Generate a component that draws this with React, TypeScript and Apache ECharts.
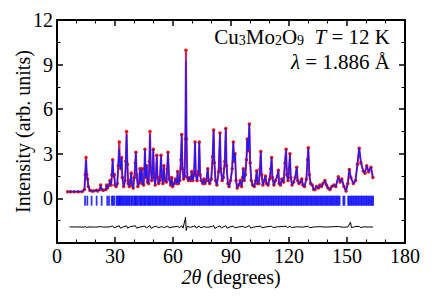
import React, { useEffect, useRef } from "react";
import * as echarts from "echarts";

// 2θ (deg), observed intensity (arb. units)
const observed: [number, number][] = [
  [5.5, 0.45], [7, 0.44], [9, 0.45], [11, 0.45], [13, 0.47], [14.2, 0.6], [14.6, 1.6], [15.0, 2.75], [15.4, 1.6],
  [15.8, 1.3], [16.2, 0.8], [17, 0.55], [18, 0.5], [19, 0.5], [20.5, 0.55], [21, 0.5], [22.2, 0.6], [22.6, 0.9],
  [23.0, 0.6], [24, 0.55], [25.3, 0.6], [25.7, 0.9], [26.1, 0.7], [27.0, 0.9], [27.4, 1.2], [28.0, 0.9], [28.4, 1.6],
  [28.8, 2.6], [29.2, 1.5], [29.6, 1.6], [30.0, 0.9], [30.6, 0.8], [31.2, 1.0], [31.7, 2.2], [32.2, 3.8], [32.6, 2.2],
  [33.0, 2.0], [33.4, 2.75], [33.8, 1.4], [34.5, 0.8], [35.2, 1.2], [35.6, 2.5], [36.0, 4.5], [36.4, 2.3], [36.8, 1.0],
  [37.4, 0.8], [38.0, 1.2], [38.4, 1.7], [38.8, 0.9], [39.4, 0.7], [40.0, 1.4], [40.5, 2.4], [40.8, 3.1], [41.2, 1.6],
  [41.8, 0.8], [42.4, 1.0], [42.9, 2.0], [43.3, 1.1], [43.8, 2.0], [44.2, 1.0], [44.8, 0.9], [45.2, 2.0], [45.5, 3.3],
  [45.9, 1.4], [46.4, 2.2], [46.8, 1.1], [47.4, 1.0], [47.8, 2.5], [48.1, 4.5], [48.5, 2.0], [49.0, 1.2], [49.5, 2.0],
  [49.8, 3.3], [50.2, 1.4], [50.8, 0.9], [51.2, 1.6], [51.6, 2.9], [52.0, 1.4], [52.6, 1.0], [53.2, 1.2], [53.8, 2.9],
  [54.2, 1.5], [54.8, 1.0], [55.3, 2.2], [55.8, 1.2], [56.6, 1.1], [57.0, 2.0], [57.4, 3.1], [58.0, 1.3], [58.8, 0.9],
  [59.3, 1.4], [59.8, 0.8], [60.6, 1.0], [61.2, 1.3], [62.0, 1.0], [62.4, 1.8], [62.8, 1.0], [63.5, 1.2], [64.1, 2.6],
  [64.5, 4.3], [64.9, 2.0], [65.5, 1.3], [66.0, 1.5], [66.4, 4.0], [66.7, 9.96], [67.0, 4.0], [67.4, 1.4], [68.0, 1.2],
  [68.6, 1.4], [69.2, 1.2], [69.7, 1.8], [70.2, 1.2], [70.9, 1.6], [71.4, 3.8], [71.8, 1.6], [72.4, 1.2], [73.2, 1.8],
  [73.6, 3.8], [74.0, 1.6], [74.6, 1.2], [75.4, 1.0], [76.0, 1.3], [76.5, 1.0], [77.2, 1.2], [78.0, 2.0], [78.4, 1.2],
  [79.0, 1.0], [79.8, 1.3], [80.5, 2.8], [81.0, 4.6], [81.4, 2.4], [82.0, 1.2], [82.7, 0.9], [83.6, 1.8], [84.3, 4.4],
  [84.7, 2.0], [85.4, 1.2], [86.0, 1.4], [86.8, 2.5], [87.3, 4.7], [87.7, 2.2], [88.4, 1.0], [89.0, 0.8], [89.8, 1.2],
  [90.6, 2.0], [91.2, 3.8], [91.6, 2.5], [92.1, 3.0], [92.6, 1.2], [93.2, 0.7], [94.0, 0.9], [94.8, 1.2], [95.5, 0.8],
  [96.0, 1.4], [96.4, 2.0], [96.8, 1.2], [97.4, 1.6], [98.0, 2.6], [98.4, 4.0], [98.9, 3.2], [99.5, 5.0], [99.9, 2.4],
  [100.5, 1.2], [101.2, 0.9], [102.0, 0.8], [102.8, 1.2], [103.3, 1.86], [103.7, 1.0], [104.4, 1.0], [105.0, 2.0],
  [105.4, 3.15], [105.8, 1.6], [106.5, 0.9], [107.2, 1.2], [107.8, 1.5], [108.4, 1.0], [109.2, 0.9], [110.0, 1.3],
  [110.6, 2.0], [111.0, 2.75], [111.4, 1.4], [112.2, 0.9], [113.0, 1.2], [114.0, 1.5], [114.5, 1.9], [114.9, 1.0],
  [115.6, 0.9], [116.3, 1.3], [117.2, 1.1], [117.9, 2.4], [118.5, 3.3], [118.9, 1.6], [119.5, 1.2], [120.0, 2.0],
  [120.5, 3.0], [120.9, 1.4], [121.6, 0.9], [122.4, 1.1], [123.2, 1.4], [124.0, 2.1], [124.5, 1.2], [125.2, 1.0],
  [126.0, 1.1], [126.6, 1.3], [127.2, 0.9], [128.0, 0.8], [129.0, 1.3], [129.6, 2.6], [130.0, 3.4], [130.5, 1.6],
  [131.2, 1.0], [132.0, 0.9], [132.8, 0.6], [133.4, 0.6], [134.2, 0.8], [135.2, 0.7], [136.0, 0.9], [136.8, 0.8],
  [137.6, 1.0], [138.6, 1.2], [139.4, 0.9], [140.2, 0.7], [141.2, 0.6], [142.2, 0.8], [143.2, 0.9], [144.2, 0.8],
  [145.5, 1.45], [146.4, 1.1], [147.3, 1.3], [148.4, 0.8], [149.5, 0.5], [150.4, 1.0], [151.2, 1.95], [152.0, 1.4],
  [153.3, 1.0], [154.4, 1.2], [155.4, 2.3], [156.3, 3.38], [157.2, 2.4], [158.4, 1.85], [159.3, 1.7], [160.2, 2.2],
  [161.2, 1.8], [162.4, 2.1], [163.4, 1.4],
];

// calculated intensity where it differs from the observed one
const calcAdjust: [number, number][] = [
  [66.7, 9.24], [32.2, 3.35], [36.0, 4.3], [48.1, 4.3], [15.0, 2.6],
];

// difference curve (obs - calc, offset)
const difference: [number, number][] = [
  [6.5, -1.92], [10, -1.92], [14, -1.93], [14.8, -1.88], [15.2, -1.97], [16, -1.92], [20, -1.93], [22.6, -1.9],
  [24, -1.93], [27, -1.92], [28.8, -1.86], [29.5, -1.98], [31, -1.9], [32.2, -1.84], [32.8, -2.0], [34, -1.93],
  [36, -1.85], [36.5, -2.0], [38, -1.9], [40.5, -1.84], [41.2, -2.0], [43, -1.92], [45.5, -1.86], [46.2, -1.99],
  [48.1, -1.83], [48.7, -2.02], [50, -1.92], [51.6, -1.87], [52.3, -1.98], [54, -1.9], [55.5, -1.96], [57.4, -1.86],
  [58, -1.98], [60, -1.92], [62.4, -1.88], [63.5, -1.96], [64.5, -1.84], [65.2, -2.0], [66.5, -1.27], [66.8, -2.15],
  [67.4, -1.88], [69, -1.95], [71.4, -1.85], [72, -1.99], [73.6, -1.86], [74.3, -1.98], [76, -1.9], [78, -1.95],
  [80.5, -1.87], [81, -1.82], [81.6, -2.02], [83, -1.92], [84.3, -1.85], [85, -1.99], [87.3, -1.84], [88, -2.0],
  [90, -1.9], [91.2, -1.86], [92, -1.98], [94, -1.92], [96.4, -1.88], [97.2, -1.97], [99.5, -1.83], [100.2, -2.0],
  [102, -1.92], [105.4, -1.86], [106, -1.98], [108, -1.92], [111, -1.87], [111.7, -1.97], [114, -1.91], [118.5, -1.87],
  [119.2, -1.97], [120.5, -1.88], [121.2, -1.96], [124, -1.91], [127, -1.93], [130, -1.87], [130.7, -1.97], [133, -1.92],
  [136, -1.9], [139, -1.93], [142, -1.91], [145.5, -1.89], [148, -1.94], [150.5, -1.92], [151.8, -1.6], [152.3, -1.97],
  [154, -1.9], [156.3, -1.88], [157.2, -1.96], [159, -1.91], [161, -1.93], [163.5, -1.92],
];

// Bragg reflection positions (2θ)
const reflections: number[] = [
  14.5, 15.7, 17.9, 20.5, 23.1, 26.0, 26.9, 28.3, 28.9, 29.6, 30.8, 31.3, 31.9, 32.3, 32.9, 33.4, 34.0, 34.6, 35.3,
  35.9, 36.4, 37.1, 37.6, 38.4, 38.9, 39.7, 40.3, 40.8, 41.4, 42.1, 42.8, 43.4, 43.9, 44.6, 45.2, 45.6, 46.3, 46.9,
  47.5, 48.1, 48.6, 49.3, 49.8, 50.5, 51.1, 51.6, 52.3, 53.0, 53.5, 54.1, 54.8, 55.4, 56.0, 56.6, 57.3, 57.9, 58.6,
  59.2, 59.9, 60.5, 61.2, 61.8, 62.4, 63.1, 63.7, 64.4, 65.0, 65.7, 66.4, 66.9, 67.6, 68.3, 68.9, 69.6, 70.3, 70.9,
  71.5, 72.2, 72.8, 73.5, 74.1, 74.8, 75.4, 76.1, 76.8, 77.4, 78.1, 78.7, 79.3, 80.0, 80.6, 81.2, 81.9, 82.5, 83.2,
  83.9, 84.5, 85.2, 85.8, 86.4, 87.1, 87.7, 88.4, 89.0, 89.7, 90.3, 91.0, 91.6, 92.3, 92.9, 93.6, 94.2, 94.9, 95.5,
  96.2, 96.8, 97.5, 98.1, 98.8, 99.4, 100.1, 100.7, 101.4, 102.0, 102.7, 103.3, 104.0, 104.6, 105.3, 105.9, 106.6,
  107.2, 107.9, 108.5, 109.2, 109.8, 110.5, 111.1, 111.8, 112.4, 113.1, 113.7, 114.4, 115.0, 115.7, 116.3, 117.0,
  117.6, 118.3, 118.9, 119.6, 120.2, 120.9, 121.5, 122.2, 122.8, 123.5, 124.1, 124.8, 125.4, 126.1, 126.7, 127.4,
  128.0, 128.7, 129.3, 130.0, 130.6, 131.3, 131.9, 132.6, 133.2, 133.9, 134.5, 135.2, 135.8, 136.5, 137.1, 137.8,
  138.4, 139.1, 139.7, 140.4, 141.0, 141.7, 142.3, 143.0, 143.6, 144.3, 144.9, 145.6, 146.2, 148.1, 148.7, 150.6,
  151.2, 151.9, 152.5, 153.2, 153.8, 154.5, 155.1, 155.8, 156.4, 157.1, 157.7, 158.4, 159.0, 159.7, 160.3, 161.0,
  161.6, 162.3, 162.9, 163.5,
];

const FONT = "Times New Roman";

export default function App() {
  const ref = useRef<HTMLDivElement>(null);
  useEffect(() => {
    if (!ref.current) return;
    const chart = echarts.init(ref.current, undefined, { renderer: "svg" });
    const calculated = observed.map(([x, y]) => {
      const a = calcAdjust.find((c) => c[0] === x);
      return [x, a ? a[1] : y];
    });
    const tickRow = -0.155;
    const axisCommon = {
      axisLine: { show: true, onZero: false, lineStyle: { color: "#000", width: 2 } },
      axisTick: { show: true, inside: true, length: 6, lineStyle: { color: "#000", width: 1.5 } },
      minorTick: { show: true, length: 3.5, lineStyle: { color: "#000", width: 1 } },
      splitLine: { show: false },
      minorSplitLine: { show: false },
    };
    chart.setOption({
      animation: false,
      backgroundColor: "#fff",
      textStyle: { fontFamily: FONT },
      grid: { left: 57, right: 31, top: 20, bottom: 56, containLabel: false },
      xAxis: [
        {
          type: "value", min: 0, max: 180, interval: 30, position: "bottom",
          ...axisCommon,
          minorTick: { ...axisCommon.minorTick, splitNumber: 3 },
          axisLabel: { color: "#000", fontFamily: FONT, fontSize: 20, margin: 3 },
          name: "{i|2θ} {n|(degrees)}",
          nameLocation: "middle",
          nameGap: 24,
          nameMoveOverlap: false,
          nameTextStyle: {
            color: "#000", fontFamily: FONT, fontSize: 20, verticalAlign: "top",
            rich: {
              i: { fontStyle: "italic", fontFamily: FONT, fontSize: 20, color: "#000" },
              n: { fontFamily: FONT, fontSize: 20, color: "#000" },
            },
          },
        },
        {
          type: "value", min: 0, max: 180, interval: 30, position: "top",
          ...axisCommon,
          minorTick: { ...axisCommon.minorTick, splitNumber: 3 },
          axisLabel: { show: false },
        },
      ],
      yAxis: [
        {
          type: "value", min: -3, max: 12, interval: 3, position: "left",
          ...axisCommon,
          minorTick: { ...axisCommon.minorTick, splitNumber: 2 },
          axisLabel: {
            color: "#000", fontFamily: FONT, fontSize: 20, margin: 4,
            formatter: (v: number) => (v < 0 ? "" : String(v)),
          },
          name: "Intensity (arb. units)",
          nameLocation: "middle",
          nameRotate: 90,
          nameGap: 24,
          nameMoveOverlap: false,
          nameTextStyle: { color: "#000", fontFamily: FONT, fontSize: 20 },
        },
        {
          type: "value", min: -3, max: 12, interval: 3, position: "right",
          ...axisCommon,
          minorTick: { ...axisCommon.minorTick, splitNumber: 2 },
          axisLabel: { show: false },
        },
      ],
      series: [
        {
          type: "scatter",
          xAxisIndex: 0, yAxisIndex: 0,
          data: reflections.map((x) => [x, tickRow]),
          symbol: "rect",
          symbolSize: [1.8, 10],
          itemStyle: { color: "#0000ff" },
          silent: true,
          z: 1,
        },
        {
          type: "line",
          xAxisIndex: 0, yAxisIndex: 0,
          data: observed,
          symbol: "circle",
          symbolSize: 3.5,
          showSymbol: true,
          itemStyle: { color: "#ee1111" },
          lineStyle: { color: "#d0206a", width: 2 },
          silent: true,
          z: 2,
        },
        {
          type: "line",
          xAxisIndex: 0, yAxisIndex: 0,
          data: calculated,
          showSymbol: false,
          lineStyle: { color: "#1a1aff", width: 1.2 },
          silent: true,
          z: 3,
        },
        {
          type: "line",
          xAxisIndex: 0, yAxisIndex: 0,
          data: difference,
          showSymbol: false,
          lineStyle: { color: "#000", width: 1 },
          silent: true,
          z: 3,
        },
      ],
      graphic: [
        {
          type: "text",
          right: 46,
          top: 26,
          style: {
            text: "{n|Cu}{s|3}{n|Mo}{s|2}{n|O}{s|9}{n|  }{i|T}{n| = 12 K}",
            fill: "#000",
            rich: {
              n: { fontFamily: FONT, fontSize: 21, lineHeight: 22, fill: "#000" },
              i: { fontFamily: FONT, fontSize: 21, lineHeight: 22, fontStyle: "italic", fill: "#000" },
              s: { fontFamily: FONT, fontSize: 14, lineHeight: 13, verticalAlign: "bottom", fill: "#000" },
            },
          },
        },
        {
          type: "text",
          right: 46,
          top: 51,
          style: {
            text: "{i|λ}{n| = 1.886 Å}",
            fill: "#000",
            rich: {
              n: { fontFamily: FONT, fontSize: 21, lineHeight: 22, fill: "#000" },
              i: { fontFamily: FONT, fontSize: 21, lineHeight: 22, fontStyle: "italic", fill: "#000" },
            },
          },
        },
      ],
    });
    return () => chart.dispose();
  }, []);
  return (
    <div
      ref={ref}
      style={{ position: "absolute", left: 0, top: 0, width: 436, height: 299 }}
    />
  );
}
